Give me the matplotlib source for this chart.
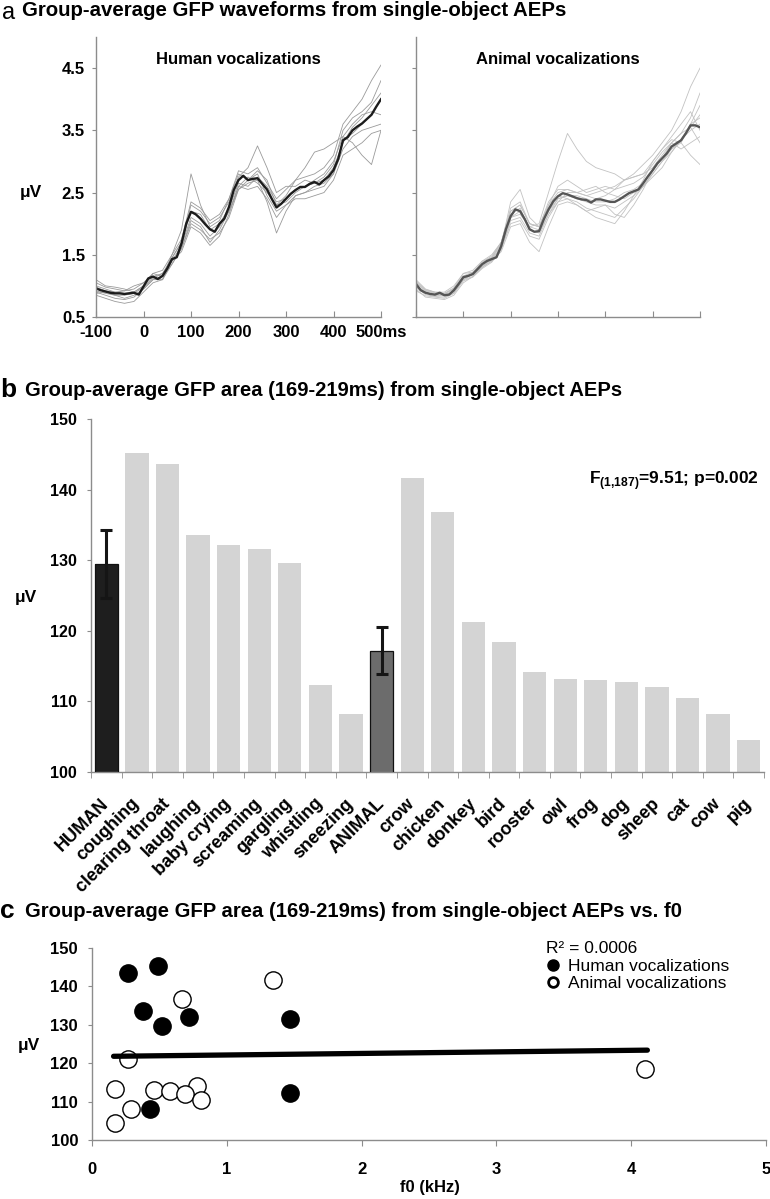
import matplotlib
matplotlib.use("Agg")
import matplotlib.pyplot as plt
from matplotlib.lines import Line2D
import numpy as np

plt.rcParams['font.family'] = ['Liberation Sans', 'DejaVu Sans']
plt.rcParams['mathtext.fontset'] = 'custom'
plt.rcParams['mathtext.bf'] = 'Liberation Sans:bold'
plt.rcParams['mathtext.rm'] = 'Liberation Sans'

W, H = 770, 1199

# ---- panel a: GFP waveforms (uV) ----
mean_times = list(range(-100, 501, 10))
human_mean = [0.96, 0.93, 0.91, 0.89, 0.88, 0.88, 0.87, 0.88, 0.89, 0.86,
              0.99, 1.12, 1.15, 1.11, 1.16, 1.28, 1.43, 1.46, 1.68, 2.00,
              2.19, 2.15, 2.08, 1.99, 1.91, 1.87, 2.00, 2.08, 2.27, 2.54,
              2.70, 2.77, 2.70, 2.72, 2.73, 2.64, 2.55, 2.40, 2.26, 2.32,
              2.40, 2.48, 2.54, 2.59, 2.59, 2.64, 2.67, 2.63, 2.70, 2.76,
              2.86, 3.04, 3.34, 3.39, 3.50, 3.56, 3.61, 3.68, 3.75, 3.88,
              4.00]
animal_mean = [1.03, 0.93, 0.89, 0.87, 0.86, 0.89, 0.85, 0.86, 0.93, 1.03,
               1.14, 1.16, 1.19, 1.27, 1.35, 1.40, 1.43, 1.46, 1.64, 1.91,
               2.12, 2.23, 2.20, 2.07, 1.91, 1.87, 1.88, 2.07, 2.23, 2.36,
               2.44, 2.49, 2.47, 2.44, 2.41, 2.39, 2.38, 2.34, 2.39, 2.39,
               2.37, 2.35, 2.35, 2.39, 2.44, 2.49, 2.52, 2.55, 2.65, 2.76,
               2.86, 2.97, 3.05, 3.13, 3.24, 3.29, 3.34, 3.45, 3.58, 3.58,
               3.55]

trace_times = list(range(-100, 501, 20))
human_traces = [
    [1.05, 0.98, 0.95, 0.92, 1.00, 1.05, 1.20, 1.25, 1.50, 1.90, 2.80, 2.30, 1.95, 2.05, 2.40, 2.85,
     2.80, 2.90, 2.65, 2.40, 2.55, 2.70, 2.75, 2.80, 2.90, 3.10, 3.60, 3.80, 4.00, 4.30, 4.55],
    [0.90, 0.85, 0.80, 0.78, 0.82, 0.95, 1.10, 1.10, 1.35, 1.60, 2.00, 1.90, 1.75, 1.85, 2.10, 2.55,
     2.65, 2.70, 2.35, 1.85, 2.20, 2.45, 2.50, 2.60, 2.65, 2.80, 3.20, 3.40, 3.50, 3.55, 3.60],
    [1.00, 0.95, 0.90, 0.92, 0.95, 1.05, 1.15, 1.20, 1.45, 1.70, 2.30, 2.20, 2.00, 2.10, 2.35, 2.75,
     2.90, 3.25, 2.90, 2.50, 2.60, 2.60, 2.70, 2.65, 2.75, 2.95, 3.50, 3.70, 3.80, 3.95, 4.30],
    [0.85, 0.80, 0.75, 0.72, 0.75, 0.90, 1.05, 1.10, 1.40, 1.55, 1.95, 1.85, 1.65, 1.80, 2.15, 2.60,
     2.55, 2.60, 2.40, 2.10, 2.30, 2.40, 2.40, 2.45, 2.50, 2.70, 3.10, 3.20, 3.30, 3.45, 3.50],
    [1.10, 1.00, 0.98, 0.95, 0.90, 1.00, 1.20, 1.15, 1.50, 1.75, 2.35, 2.25, 2.05, 2.15, 2.40, 2.80,
     2.70, 2.85, 2.70, 2.30, 2.45, 2.70, 2.90, 3.15, 3.20, 3.30, 3.40, 3.30, 3.10, 2.95, 3.50],
    [0.92, 0.88, 0.85, 0.85, 0.88, 0.98, 1.12, 1.20, 1.40, 1.65, 2.10, 2.00, 1.80, 1.95, 2.20, 2.60,
     2.75, 2.65, 2.50, 2.30, 2.35, 2.50, 2.60, 2.65, 2.70, 2.90, 3.30, 3.55, 3.70, 3.90, 4.10],
    [0.98, 0.92, 0.90, 0.88, 0.90, 1.00, 1.15, 1.10, 1.45, 1.70, 2.20, 2.15, 1.90, 2.00, 2.25, 2.65,
     2.60, 2.75, 2.60, 2.35, 2.40, 2.55, 2.60, 2.70, 2.80, 3.00, 3.40, 3.60, 3.75, 3.80, 3.75],
    [0.88, 0.90, 0.85, 0.80, 0.85, 0.95, 1.10, 1.15, 1.35, 1.60, 2.05, 1.95, 1.70, 1.90, 2.20, 2.55,
     2.70, 2.80, 2.45, 2.20, 2.30, 2.45, 2.50, 2.55, 2.60, 2.80, 3.35, 3.45, 3.60, 3.75, 4.00],
]
animal_traces = [
    [1.00, 0.90, 0.85, 0.88, 0.95, 1.10, 1.20, 1.30, 1.45, 1.70, 2.10, 2.15, 1.95, 2.00, 2.50, 3.00,
     3.45, 3.20, 3.00, 2.90, 2.85, 2.80, 2.70, 2.75, 2.80, 2.90, 3.10, 3.30, 3.20, 3.30, 3.40],
    [1.10, 0.95, 0.90, 0.90, 1.00, 1.20, 1.25, 1.40, 1.50, 1.70, 2.20, 2.30, 2.00, 1.95, 2.30, 2.50,
     2.55, 2.50, 2.45, 2.50, 2.55, 2.60, 2.70, 2.80, 2.95, 3.10, 3.30, 3.50, 3.80, 4.20, 4.50],
    [0.95, 0.82, 0.80, 0.78, 0.85, 1.05, 1.15, 1.30, 1.40, 1.60, 2.00, 2.05, 1.80, 1.75, 2.10, 2.35,
     2.40, 2.35, 2.25, 2.20, 2.15, 2.10, 2.25, 2.40, 2.60, 2.80, 3.00, 3.20, 3.30, 3.60, 3.90],
    [1.05, 0.92, 0.88, 0.86, 0.95, 1.15, 1.20, 1.35, 1.45, 1.65, 2.35, 2.55, 2.10, 1.95, 2.20, 2.45,
     2.40, 2.30, 2.20, 2.10, 2.05, 2.00, 2.20, 2.45, 2.70, 3.00, 3.20, 3.35, 3.30, 3.10, 2.95],
    [1.00, 0.88, 0.85, 0.84, 0.90, 1.10, 1.20, 1.40, 1.45, 1.60, 2.15, 2.25, 1.90, 1.85, 2.15, 2.35,
     2.50, 2.50, 2.55, 2.60, 2.50, 2.45, 2.40, 2.50, 2.60, 2.75, 2.90, 3.15, 3.35, 3.60, 3.70],
    [0.98, 0.86, 0.83, 0.82, 0.88, 1.10, 1.15, 1.30, 1.40, 1.55, 1.95, 2.00, 1.70, 1.55, 1.95, 2.30,
     2.35, 2.30, 2.20, 2.25, 2.30, 2.15, 2.10, 2.30, 2.55, 2.85, 3.05, 3.30, 3.45, 3.55, 3.30],
    [1.08, 0.94, 0.90, 0.88, 0.97, 1.20, 1.22, 1.38, 1.48, 1.70, 2.25, 2.35, 2.00, 1.95, 2.35, 2.55,
     2.55, 2.50, 2.45, 2.40, 2.45, 2.55, 2.60, 2.65, 2.75, 2.95, 3.15, 3.30, 3.45, 3.70, 4.10],
    [1.02, 0.90, 0.86, 0.85, 0.92, 1.12, 1.18, 1.32, 1.42, 1.62, 2.10, 2.20, 1.95, 1.90, 2.20, 2.40,
     2.45, 2.45, 2.40, 2.35, 2.35, 2.40, 2.50, 2.55, 2.65, 2.85, 3.05, 3.20, 3.35, 3.50, 3.60],
    [0.92, 0.84, 0.82, 0.80, 0.88, 1.08, 1.14, 1.28, 1.38, 1.58, 2.05, 2.10, 1.85, 1.80, 2.15, 2.40,
     2.45, 2.40, 2.35, 2.30, 2.30, 2.25, 2.35, 2.45, 2.60, 2.80, 3.00, 3.15, 3.35, 3.55, 3.75],
    [1.06, 0.93, 0.89, 0.87, 0.96, 1.16, 1.22, 1.36, 1.46, 1.68, 2.20, 2.30, 2.00, 1.95, 2.30, 2.60,
     2.70, 2.60, 2.50, 2.55, 2.60, 2.55, 2.70, 2.75, 2.80, 3.00, 3.20, 3.40, 3.60, 3.80, 3.50],
]

# ---- panel b: GFP area per sound (uV) ----
categories = ['HUMAN', 'coughing', 'clearing throat', 'laughing', 'baby crying',
              'screaming', 'gargling', 'whistling', 'sneezing', 'ANIMAL',
              'crow', 'chicken', 'donkey', 'bird', 'rooster', 'owl', 'frog',
              'dog', 'sheep', 'cat', 'cow', 'pig']
amplitudes = [129.5, 145.2, 143.6, 133.5, 132.1, 131.6, 129.6, 112.3, 108.2, 117.2,
              141.7, 136.8, 121.2, 118.4, 114.1, 113.2, 113.0, 112.7, 112.0, 110.5,
              108.2, 104.5]
group_labels = ['HUMAN', 'ANIMAL']
group_sem = [4.8, 3.3]

# ---- panel c: f0 (kHz) of each sound ----
human_sounds = ['coughing', 'clearing throat', 'laughing', 'baby crying',
                'screaming', 'gargling', 'whistling', 'sneezing']
human_f0 = [0.49, 0.265, 0.375, 0.72, 1.47, 0.52, 1.47, 0.43]
animal_sounds = ['crow', 'chicken', 'donkey', 'bird', 'rooster', 'owl', 'frog',
                 'dog', 'sheep', 'cat', 'cow', 'pig']
animal_f0 = [1.345, 0.665, 0.265, 4.10, 0.78, 0.17, 0.46, 0.575, 0.69, 0.805, 0.29, 0.17]
trend_x = [0.16, 4.12]
trend_y = [121.8, 123.4]


def px(x, y):
    return x / W, 1 - y / H


def axes_px(x0, y0, x1, y1):
    return [x0 / W, 1 - y1 / H, (x1 - x0) / W, (y1 - y0) / H]


def style_spines(ax):
    for s in ['top', 'right']:
        ax.spines[s].set_visible(False)
    for s in ['left', 'bottom']:
        ax.spines[s].set_color('#8c8c8c')
        ax.spines[s].set_linewidth(1.0)


fig = plt.figure(figsize=(W / 100, H / 100), dpi=100)

# ================= panel a =================
fig.text(*px(2, 19), 'a', fontsize=17, va='baseline')
fig.text(*px(22, 16), 'Group-average GFP waveforms from single-object AEPs',
         fontsize=14.7, fontweight='bold', va='baseline')

panels_a = [
    (axes_px(96, 37, 381, 317), human_traces, human_mean, '#9a9a9a', '#1c1c1c', 'Human vocalizations', True),
    (axes_px(416, 37, 700, 317), animal_traces, animal_mean, '#c2c2c2', '#555555', 'Animal vocalizations', False),
]
for rect, traces, mean, tcol, mcol, name, labels in panels_a:
    ax = fig.add_axes(rect)
    for tr in traces:
        ax.plot(trace_times, tr, color=tcol, lw=0.6)
    ax.plot(mean_times, mean, color=mcol, lw=1.7)
    ax.set_xlim(-100, 500)
    ax.set_ylim(0.5, 5.0)
    ax.set_yticks([0.5, 1.5, 2.5, 3.5, 4.5])
    ax.set_xticks([-100, 0, 100, 200, 300, 400, 500])
    style_spines(ax)
    ax.tick_params(axis='y', direction='out', length=3, color='#8c8c8c', pad=5)
    ax.tick_params(axis='x', direction='in', length=4, color='#8c8c8c', pad=6)
    if labels:
        ax.set_yticklabels(['0.5', '1.5', '2.5', '3.5', '4.5'], fontsize=12, fontweight='bold')
        ax.set_xticklabels(['-100', '0', '100', '200', '300', '400', '500ms'],
                           fontsize=12, fontweight='bold')
    else:
        ax.set_yticklabels([])
        ax.set_xticklabels([])
    ax.text(0.5, 0.905, name, transform=ax.transAxes, ha='center', va='baseline',
            fontsize=12, fontweight='bold')

fig.text(*px(20, 197), 'μV', fontsize=12.5, fontweight='bold', va='baseline')

# ================= panel b =================
fig.text(*px(0, 397), 'b', fontsize=19, fontweight='bold', va='baseline')
fig.text(*px(25, 396), 'Group-average GFP area (169-219ms) from single-object AEPs',
         fontsize=14.5, fontweight='bold', va='baseline')

axb = fig.add_axes(axes_px(91, 419, 764, 772))
x = np.arange(len(categories))
colors = []
for c in categories:
    if c == 'HUMAN':
        colors.append('#1e1e1e')
    elif c == 'ANIMAL':
        colors.append('#6c6c6c')
    else:
        colors.append('#d4d4d4')
axb.bar(x, amplitudes, width=0.76, color=colors, zorder=2)
gi = [categories.index(g) for g in group_labels]
axb.bar(x[gi], [amplitudes[i] for i in gi], width=0.76, color='none',
        edgecolor='#111111', linewidth=0.9, zorder=3)
axb.errorbar(x[gi], [amplitudes[i] for i in gi], yerr=group_sem, fmt='none',
             ecolor='#151515', elinewidth=2.2, capsize=4, capthick=2.2, zorder=4)
axb.set_xlim(-0.5, len(categories) - 0.5)
axb.set_ylim(100, 150)
axb.set_yticks([100, 110, 120, 130, 140, 150])
axb.set_yticklabels(['100', '110', '120', '130', '140', '150'], fontsize=11.5, fontweight='bold')
axb.set_xticks(x)
axb.set_xticklabels(categories, rotation=45, ha='right', va='center',
                    rotation_mode='anchor', fontsize=13, fontweight='bold')
axb.set_xticks(np.arange(-0.5, len(categories), 1.0), minor=True)
style_spines(axb)
axb.tick_params(axis='x', which='major', length=0, pad=21)
axb.tick_params(axis='x', which='minor', length=4, color='#8c8c8c', direction='out')
axb.tick_params(axis='y', length=3, color='#8c8c8c', pad=7)
axb.text(0.74, 0.815, r'F$_{\mathbf{(1{,}187)}}$=9.51; p=0.002', transform=axb.transAxes,
         fontsize=12.5, fontweight='bold', va='baseline')
fig.text(*px(15, 602), 'μV', fontsize=12.5, fontweight='bold', va='baseline')

# ================= panel c =================
fig.text(*px(0, 918), 'c', fontsize=19, fontweight='bold', va='baseline')
fig.text(*px(25, 917), 'Group-average GFP area (169-219ms) from single-object AEPs vs. f0',
         fontsize=14.6, fontweight='bold', va='baseline')

axc = fig.add_axes(axes_px(92, 948, 766, 1140))
human_amp = [amplitudes[categories.index(s)] for s in human_sounds]
animal_amp = [amplitudes[categories.index(s)] for s in animal_sounds]
axc.scatter(human_f0, human_amp, s=155, color='black', zorder=3)
axc.scatter(animal_f0, animal_amp, s=155, facecolor='white', edgecolor='black',
            linewidth=1.0, zorder=3)
axc.plot(trend_x, trend_y, color='black', lw=3.8, solid_capstyle='round', zorder=4)
axc.set_xlim(0, 5)
axc.set_ylim(100, 150)
axc.set_xticks([0, 1, 2, 3, 4, 5])
axc.set_xticklabels(['0', '1', '2', '3', '4', '5'], fontsize=12, fontweight='bold')
axc.set_yticks([100, 110, 120, 130, 140, 150])
axc.set_yticklabels(['100', '110', '120', '130', '140', '150'], fontsize=12, fontweight='bold')
style_spines(axc)
axc.tick_params(axis='x', length=4, color='#8c8c8c', direction='out', pad=12)
axc.tick_params(axis='y', length=3, color='#8c8c8c', pad=7)

handles = [
    Line2D([], [], linestyle='none', marker='o', markersize=8, color='black'),
    Line2D([], [], linestyle='none', marker='o', markersize=7, markerfacecolor='white',
           markeredgecolor='black', markeredgewidth=2),
]
leg = axc.legend(handles, ['Human vocalizations', 'Animal vocalizations'],
                 title='R² = 0.0006', loc='upper left', bbox_to_anchor=(0.655, 1.10),
                 frameon=False, fontsize=12.5, title_fontsize=12.5, alignment='left',
                 handlelength=0.8, handletextpad=0.5, labelspacing=0.15, borderpad=0.2)
fig.text(*px(430, 1192), 'f0 (kHz)', fontsize=12, fontweight='bold', ha='center', va='baseline')
fig.text(*px(18, 1050), 'μV', fontsize=12.5, fontweight='bold', va='baseline')

fig.savefig('out.png', dpi=100)
